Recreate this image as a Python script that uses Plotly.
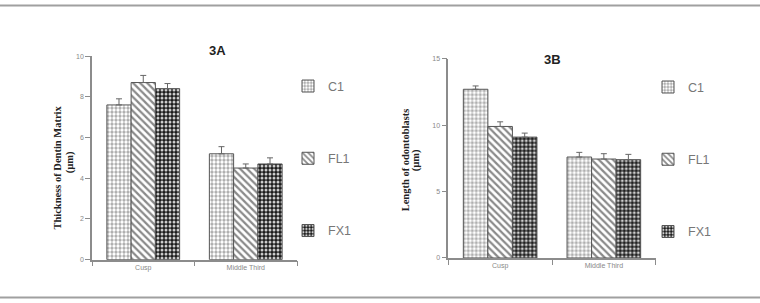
import plotly.graph_objects as go

categories = ["Cusp", "Middle Third"]
groups = ["C1", "FL1", "FX1"]

# Panel 3A: Thickness of Dentin Matrix (µm)
a_values = {"C1": [7.6, 5.2], "FL1": [8.7, 4.5], "FX1": [8.4, 4.7]}
a_errors = {"C1": [0.3, 0.35], "FL1": [0.35, 0.2], "FX1": [0.25, 0.3]}

# Panel 3B: Length of odontoblasts (µm)
b_values = {"C1": [12.7, 7.6], "FL1": [9.9, 7.45], "FX1": [9.1, 7.4]}
b_errors = {"C1": [0.25, 0.35], "FL1": [0.35, 0.4], "FX1": [0.3, 0.4]}

a_ticks = [0, 2, 4, 6, 8, 10]
b_ticks = [0, 5, 10, 15]

W, H = 760, 303
def px(x):
    return x / W
def py(y):
    return 1 - y / H

patterns = {
    "C1": dict(shape=".", fgcolor="#ffffff", bgcolor="#a8a8a8", size=4, solidity=0.55, fillmode="replace"),
    "FL1": dict(shape="\\", fgcolor="#8a8a8a", bgcolor="#ffffff", size=5, solidity=0.45, fillmode="replace"),
    "FX1": dict(shape=".", fgcolor="#d0d0d0", bgcolor="#1a1a1a", size=4, solidity=0.45, fillmode="replace"),
}

fig = go.Figure()

for g in groups:
    fig.add_trace(go.Bar(
        x=categories, y=a_values[g], name=g,
        xaxis="x", yaxis="y", legend="legend", legendgroup="a" + g,
        marker=dict(pattern=patterns[g], line=dict(color="#555555", width=1)),
        error_y=dict(type="data", array=a_errors[g], symmetric=False,
                     arrayminus=[0, 0], color="#666666", thickness=1, width=3),
    ))
for g in groups:
    fig.add_trace(go.Bar(
        x=categories, y=b_values[g], name=g,
        xaxis="x2", yaxis="y2", legend="legend2", legendgroup="b" + g,
        marker=dict(pattern=patterns[g], line=dict(color="#555555", width=1)),
        error_y=dict(type="data", array=b_errors[g], symmetric=False,
                     arrayminus=[0, 0], color="#666666", thickness=1, width=3),
    ))

axis_common = dict(showline=True, linecolor="#8c8c8c", linewidth=1.5, ticks="outside",
                   tickcolor="#8c8c8c", ticklen=5, showgrid=False, zeroline=False,
                   tickfont=dict(family="Liberation Sans", size=7, color="#888888"))

legend_common = dict(font=dict(family="Liberation Sans", size=12.5, color="#777777"),
                     tracegroupgap=53, bgcolor="rgba(0,0,0,0)", xanchor="left", yanchor="top",
                     itemwidth=30)

fig.update_layout(
    width=W, height=H, margin=dict(l=0, r=0, t=0, b=0),
    paper_bgcolor="white", plot_bgcolor="white",
    barmode="group", bargap=0.29, bargroupgap=0,
    xaxis=dict(domain=[px(92), px(297)], tickson="boundaries", range=[-0.5, 1.5],
               anchor="y", **axis_common),
    yaxis=dict(domain=[py(261.7), py(53.3)], range=[0, 10], tickvals=a_ticks,
               anchor="x", **axis_common),
    xaxis2=dict(domain=[px(448.3), px(655.7)], tickson="boundaries", range=[-0.5, 1.5],
                anchor="y2", **axis_common),
    legend=dict(x=px(288), y=py(69), **legend_common),
    legend2=dict(x=px(648), y=py(70), **legend_common),
    yaxis2=dict(domain=[py(260), py(56)], range=[0, 15], tickvals=b_ticks,
                anchor="x2", **axis_common),
    showlegend=True,
)

ann_title = dict(family="Liberation Sans", size=13, color="#222222")
ann_ylab = dict(family="Liberation Serif", size=10.5, color="#222222")
fig.add_annotation(text="<b>3A</b>", x=px(206.7), y=py(38), xref="paper", yref="paper",
                   showarrow=False, font=ann_title)
fig.add_annotation(text="<b>3B</b>", x=px(562.7), y=py(46.7), xref="paper", yref="paper",
                   showarrow=False, font=ann_title)
fig.add_annotation(text="<b>Thickness of Dentin Matrix</b>", x=px(50), y=py(168), xref="paper",
                   yref="paper", showarrow=False, textangle=-90, font=ann_ylab)
fig.add_annotation(text="<b>(µm)</b>", x=px(62), y=py(162), xref="paper",
                   yref="paper", showarrow=False, textangle=-90, font=ann_ylab)
fig.add_annotation(text="<b>Length of odontoblasts</b>", x=px(405), y=py(160), xref="paper",
                   yref="paper", showarrow=False, textangle=-90, font=ann_ylab)
fig.add_annotation(text="<b>(µm)</b>", x=px(416), y=py(160), xref="paper",
                   yref="paper", showarrow=False, textangle=-90, font=ann_ylab)

# frame lines top and bottom
for yy in [1.5, 300.5]:
    fig.add_shape(type="line", xref="paper", yref="paper", x0=0, x1=1, y0=py(yy), y1=py(yy),
                  line=dict(color="#a0a0a0", width=2))

fig.write_html("out.html")
